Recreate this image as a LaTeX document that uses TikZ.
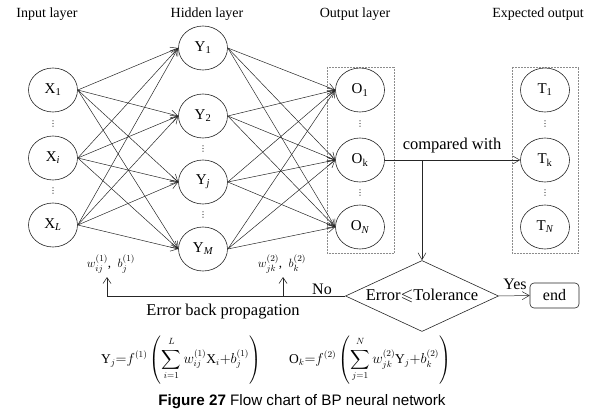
\documentclass[tikz,border=0pt]{standalone}
\usepackage{amsmath,amssymb}
\usepackage{fontspec}
\setmainfont{Liberation Serif}
\newfontfamily\capfont{Liberation Sans}
\newfontfamily\dotfont{DejaVu Sans}
\usetikzlibrary{shapes.geometric,arrows.meta}
\begin{document}
\begin{tikzpicture}[x=1pt,y=-1pt,
  lw/.style={line width=0.6pt,draw=black!85},
  neuron/.style={ellipse,lw,minimum width=49pt,minimum height=44pt,inner sep=0pt,font=\fontsize{15}{15}\selectfont},
  conn/.style={lw,line width=0.5pt,-{Straight Barb[length=7pt,width=8pt]}},
  back/.style={lw,-{Straight Barb[length=6pt,width=8pt]}},
  head/.style={font=\fontsize{14}{16}\selectfont,inner sep=0pt},
  lbl/.style={font=\fontsize{16.5}{18}\selectfont,inner sep=0pt},
  vd/.style={font=\dotfont\fontsize{8}{8}\selectfont,inner sep=0pt},
  dbox/.style={draw=black!45,densely dotted,line width=0.5pt},
]
\useasboundingbox (0,0) rectangle (597,420);

% headings
\node[head] (h1) at (47,14) {Input layer};
\node[head] (h2) at (207,14) {Hidden layer};
\node[head] (h3) at (355,14) {Output layer};
\node[head] (h4) at (538,14) {Expected output};

% dotted boxes
\draw[dbox] (327,67) rectangle (394,253);
\draw[dbox] (512,67) rectangle (578,253);

% input layer
\node[neuron] (x1) at (53,90) {X\textsubscript{1}};
\node[neuron] (xi) at (53,158) {X\textsubscript{\itshape i}};
\node[neuron] (xl) at (53,225) {X\textsubscript{\itshape L}};
\node[vd] (dx1) at (53,124) {⋮};
\node[vd] (dx2) at (53,191) {⋮};

% hidden layer
\node[neuron] (y1) at (203,48) {Y\textsubscript{1}};
\node[neuron] (y2) at (203,116) {Y\textsubscript{2}};
\node[neuron] (yj) at (203,182) {Y\textsubscript{\itshape j}};
\node[neuron] (ym) at (203,249) {Y\textsubscript{\itshape M}};
\node[vd] (dy1) at (203,149) {⋮};
\node[vd] (dy2) at (203,215) {⋮};

% output layer
\node[neuron] (o1) at (360,90) {O\textsubscript{1}};
\node[neuron] (ok) at (360,160) {O\textsubscript{k}};
\node[neuron] (on) at (360,227) {O\textsubscript{\itshape N}};
\node[vd] (do1) at (360,124) {⋮};
\node[vd] (do2) at (360,193) {⋮};

% expected output
\node[neuron] (t1) at (545,90) {T\textsubscript{1}};
\node[neuron] (tk) at (545,160) {T\textsubscript{k}};
\node[neuron] (tn) at (545,227) {T\textsubscript{\itshape N}};
\node[vd] (dt1) at (545,124) {⋮};
\node[vd] (dt2) at (545,193) {⋮};

% connections
\foreach \a in {x1,xi,xl}
  \foreach \b in {y1,y2,yj,ym}
    \draw[conn] (\a.east) -- (\b.west);
\foreach \a in {y1,y2,yj,ym}
  \foreach \b in {o1,ok,on}
    \draw[conn] (\a.east) -- (\b.west);

% compare
\node[lbl] (cmp) at (452,146) {compared with};
\draw[conn] (ok.east) -- (tk.west);

% decision
\node[diamond,lw,aspect=2.155,minimum width=153pt,minimum height=71pt,inner sep=0pt,font=\fontsize{16.5}{18}\selectfont] (dia) at (422,296) {Error$\leqslant$Tolerance};
\coordinate (cw) at (dia.north |- ok.east);
\draw[conn] (cw) -- (dia.north);

\node[draw,lw,rounded corners=4pt,minimum width=49pt,minimum height=25pt,inner sep=0pt,font=\fontsize{16}{18}\selectfont] (end) at (554.5,295.5) {end};
\draw[conn] (dia.east) -- (end.west);
\node[lbl,font=\fontsize{16}{18}\selectfont] (yes) at (515,284) {Yes};
\node[lbl,font=\fontsize{16}{18}\selectfont] (no) at (322,289) {No};

% back propagation
\coordinate (c1) at (107,296);
\coordinate (c2) at (283,296);
\coordinate (a1) at (107,277);
\coordinate (a2) at (283,277);
\draw[lw] (dia.west) -- (c1);
\draw[back] (c1) -- (a1);
\draw[back] (c2) -- (a2);
\node[font=\fontsize{13}{15}\selectfont,inner sep=0pt] (w1) at (111,264) {$w_{ij}^{(1)}$,\ \ $b_j^{(1)}$};
\node[font=\fontsize{13}{15}\selectfont,inner sep=0pt] (w2) at (282,264) {$w_{jk}^{(2)}$,\ \ $b_k^{(2)}$};
\node[lbl] (ebp) at (223,312) {Error back propagation};

% formulas
\node[font=\fontsize{13.5}{15}\selectfont,inner sep=0pt] (f1) at (181,360)
  {$\displaystyle \mathrm{Y}_j{=}f^{(1)}\left(\sum_{i=1}^{\raisebox{2pt}{$\scriptstyle L$}} w_{ij}^{(1)}\mathrm{X}_i{+}b_j^{(1)}\right)$};
\node[font=\fontsize{13.5}{15}\selectfont,inner sep=0pt] (f2) at (370,360)
  {$\displaystyle \mathrm{O}_k{=}f^{(2)}\left(\sum_{j=1}^{\raisebox{2pt}{$\scriptstyle N$}} w_{jk}^{(2)}\mathrm{Y}_j{+}b_k^{(2)}\right)$};

% caption
\node[font=\capfont\fontsize{15.2}{17}\selectfont,inner sep=0pt] (cap) at (302,402)
  {\textbf{Figure 27} Flow chart of BP neural network};
\end{tikzpicture}
\end{document}
